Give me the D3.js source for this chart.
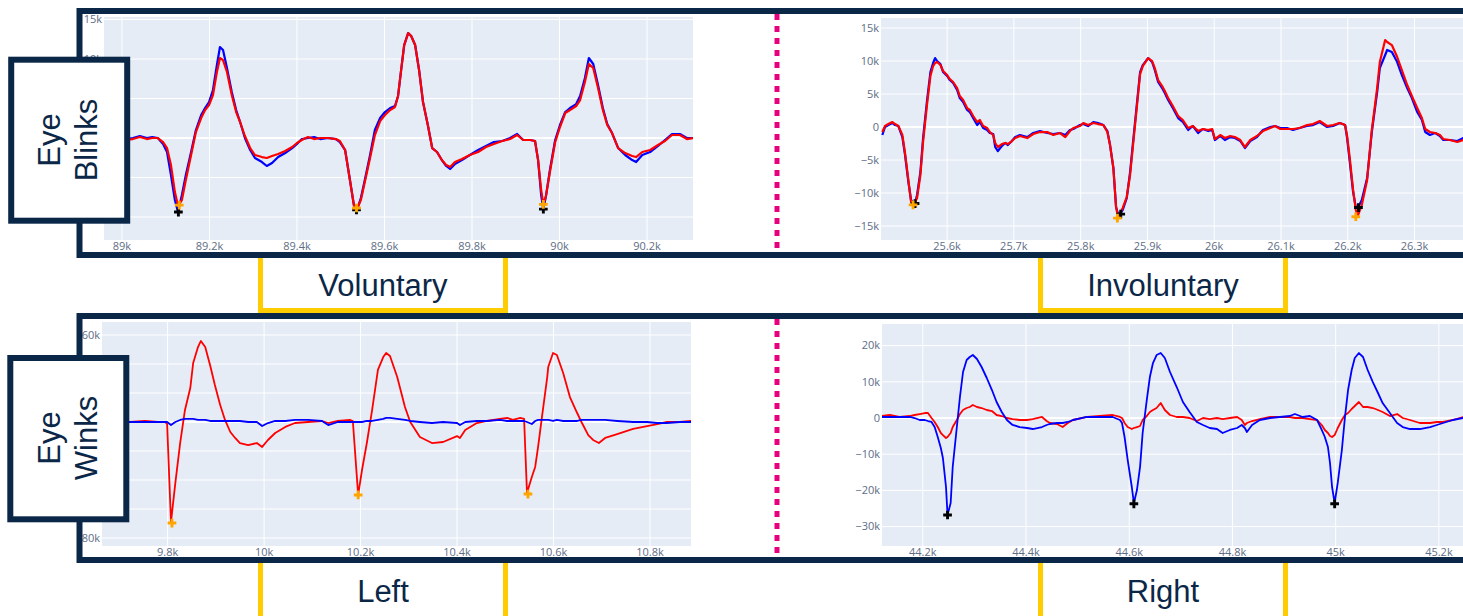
<!DOCTYPE html>
<html><head><meta charset="utf-8">
<script src="https://cdn.jsdelivr.net/npm/d3@7"></script>
<style>body{margin:0;background:#fff}svg{display:block}</style>
</head><body>
<svg id="c" width="1463" height="616"></svg>
<script>
// ---------- DATA (x raw, y in thousands) ----------
// Voluntary blinks
const volX = [88959,88984,89007,89025,89041,89057,89069,89082,89094,89103,
89112,89121,89128,89137,89146,89158,89169,89181,89190,89199,
89208,89217,89224,89231,89240,89251,89261,89270,89281,89293,
89304,89320,89331,89343,89357,89373,89389,89400,89411,89425,
89439,89453,89471,89489,89498,89510,89521,89530,89537,89546,
89555,89567,89578,89590,89601,89613,89624,89631,89638,89645,
89654,89661,89670,89679,89688,89699,89709,89720,89731,89741,
89750,89761,89777,89795,89814,89832,89850,89869,89887,89903,
89917,89933,89944,89951,89958,89963,89969,89978,89990,90001,
90013,90024,90038,90047,90058,90067,90077,90088,90099,90109,
90120,90134,90150,90166,90175,90189,90207,90225,90241,90257,
90275,90291,90305];
const volBlue = [-0.13,0.13,-0.13,0,0.25,0,0.13,0,-0.76,-1.77,
-4.68,-7.85,-9.37,-7.22,-4.68,-1.77,1.01,2.91,3.80,4.56,
6.08,9.24,11.52,11.14,8.86,5.82,3.54,2.03,0,-1.52,
-2.53,-3.04,-3.54,-3.17,-2.41,-1.90,-1.27,-0.76,-0.13,0,
0.13,-0.13,0,-0.13,-0.51,-1.52,-5.32,-8.48,-9.12,-7.60,
-5.32,-2.15,1.01,2.53,3.29,3.80,4.05,5.32,8.61,11.77,
13.29,12.91,11.77,8.61,4.56,1.65,-1.27,-1.77,-2.79,-3.54,
-3.92,-3.29,-2.79,-2.15,-1.52,-1.01,-0.51,-0.38,0,0.51,
-0.25,-0.25,-0.38,-2.79,-7.22,-9.0,-7.34,-4.05,-0.25,1.65,
3.29,3.80,4.30,5.32,7.60,10.13,9.37,6.71,3.80,1.77,
0.63,-1.27,-2.15,-2.79,-3.04,-2.15,-1.77,-1.01,-0.25,0.51,
0.51,0,0];
const volRed = [-0.25,0,-0.25,-0.13,0.13,-0.13,0,0,-0.51,-1.27,
-3.42,-6.84,-8.55,-7.85,-5.32,-2.15,0.76,2.53,3.54,4.18,
5.44,8.36,10.13,9.87,8.36,5.44,3.29,2.03,0.25,-1.27,
-2.15,-2.41,-2.53,-2.28,-2.03,-1.65,-1.14,-0.63,-0.25,0.13,
-0.13,0,0,-0.13,-0.38,-1.52,-5.32,-8.48,-8.99,-7.85,
-5.57,-2.53,0.38,2.15,2.91,3.54,3.92,5.32,8.61,11.77,
13.29,12.91,11.77,8.61,4.56,1.65,-1.27,-1.77,-2.79,-3.42,
-3.67,-3.04,-2.66,-2.15,-1.77,-1.14,-0.76,-0.38,-0.13,0.38,
-0.25,-0.25,-0.38,-2.79,-6.58,-8.4,-7.34,-4.30,-0.51,1.39,
3.16,3.54,4.05,4.81,7.09,9.37,8.86,6.33,3.54,1.65,
0.63,-1.27,-1.90,-2.28,-2.41,-1.77,-1.52,-0.89,-0.38,0.38,
0.38,-0.13,0];
const volBlueMin = [[89129,-9.37],[89536,-9.1],[89963,-9.0]];
const volRedMin = [[89131,-8.5],[89536,-8.86],[89963,-8.4]];
const volXTicks = [89000,89200,89400,89600,89800,90000,90200];
const volYTicks = [15,10,5,0,-5,-10];

// Involuntary blinks
const invX = [25503,25507,25512,25518,25522,25527,25533,25537,25542,25546,
25549,25552,25555,25560,25564,25570,25575,25579,25582,25585,
25590,25594,25600,25604,25609,25615,25619,25624,25630,25634,
25639,25645,25649,25654,25660,25664,25669,25672,25676,25682,
25687,25691,25697,25702,25709,25720,25729,25739,25750,25759,
25769,25777,25784,25789,25799,25804,25811,25819,25826,25834,
25840,25844,25849,25853,25856,25860,25863,25869,25874,25878,
25884,25889,25893,25901,25907,25911,25916,25922,25926,25931,
25938,25946,25953,25961,25968,25976,25983,25991,25997,26001,
26009,26016,26024,26031,26039,26046,26054,26064,26073,26084,
26091,26099,26109,26118,26128,26139,26148,26158,26169,26178,
26188,26196,26199,26203,26208,26212,26215,26221,26229,26236,
26244,26248,26256,26259,26266,26274,26281,26289,26296,26304,
26311,26316,26323,26331,26338,26343,26353,26364,26373,26413];
const invBlue = [-1.21,0,0.30,0.61,0.30,0.15,-1.52,-4.24,-8.33,-11.06,
-11.36,-11.51,-10.30,-6.82,-1.67,4.09,8.33,9.70,10.45,10.0,
9.54,8.33,7.73,7.12,6.67,5.61,4.39,3.79,2.58,2.27,
1.36,0.30,0.76,-0.15,-0.45,-0.91,-1.06,-3.03,-3.64,-2.88,
-2.42,-2.73,-2.12,-1.52,-1.21,-1.52,-0.91,-0.61,-0.91,-1.06,
-0.91,-1.21,-0.45,-0.30,0.30,0.45,0.15,0.76,0.61,0.30,
-0.61,-2.73,-6.21,-12.12,-13.18,-13.03,-12.57,-10.76,-6.82,-2.73,
3.33,8.33,9.39,10.45,9.85,8.64,6.82,5.91,5.15,4.09,
2.88,1.36,0.76,-0.45,0.15,-0.91,-0.30,-0.61,-0.45,-1.97,
-1.36,-1.97,-1.52,-1.67,-2.12,-3.18,-2.12,-1.52,-0.45,0,
0.15,-0.15,-0.15,-0.45,-0.15,0.15,0.30,0.76,0,0.15,
0.61,0.30,-1.67,-5.30,-9.85,-12.12,-12.27,-11.06,-7.73,-0.76,
5.30,8.94,10.91,11.67,11.36,9.85,7.88,5.91,4.39,2.27,
1.06,-0.76,-1.21,-0.91,-1.36,-1.97,-1.97,-2.12,-1.67,-1.82];
const invRed = [-0.76,0.15,0.45,0.76,0.45,0.15,-1.21,-3.94,-8.03,-11.36,
-11.82,-11.36,-10.76,-7.27,-2.27,3.48,7.73,9.24,9.70,9.85,
9.39,8.48,7.88,7.27,6.82,5.91,4.70,4.09,2.88,2.58,
1.67,0.76,1.06,0.15,-0.15,-0.76,-1.21,-2.42,-3.03,-2.58,
-2.42,-2.58,-2.12,-1.67,-1.36,-1.67,-1.06,-0.76,-0.76,-1.21,
-0.91,-1.52,-0.61,-0.15,0.15,0.61,0.30,0.61,0.45,0.30,
-0.76,-2.73,-6.21,-12.12,-13.64,-12.88,-12.27,-10.61,-7.27,-3.18,
2.88,8.03,9.24,10.45,10.0,8.94,7.12,6.21,5.45,4.39,
3.18,1.67,1.06,-0.15,0.15,-0.61,-0.30,-0.45,-0.30,-1.82,
-1.21,-1.67,-1.36,-1.52,-1.97,-3.03,-1.97,-1.36,-0.61,-0.15,
0.15,-0.30,-0.30,-0.30,-0.15,0.30,0.45,0.91,0.15,0.30,
0.61,0.30,-1.36,-4.70,-9.55,-12.57,-13.48,-11.82,-8.03,-0.45,
5.91,9.85,13.18,12.88,12.42,10.61,8.64,6.36,4.70,2.88,
1.36,-0.30,-0.76,-0.91,-1.21,-1.82,-1.97,-2.27,-1.97,-1.82];
const invBlueMin = [[25552,-11.6],[25860,-13.2],[26216,-12.2]];
const invRedMin = [[25549,-11.8],[25855,-13.8],[26212,-13.6]];
const invXTicks = [25600,25700,25800,25900,26000,26100,26200,26300];
const invYTicks = [15,10,5,0,-5,-10,-15];

// Left winks
const leftX = [9664,9691,9722,9753,9780,9795,9799,9807,9816,9826,
9836,9847,9853,9863,9869,9878,9888,9898,9909,9919,
9930,9940,9950,9967,9985,9996,10008,10023,10044,10064,
10091,10120,10133,10153,10178,10184,10195,10203,10213,10224,
10236,10247,10253,10261,10276,10292,10303,10323,10348,10371,
10400,10406,10417,10441,10462,10489,10504,10516,10531,10539,
10545,10555,10562,10568,10576,10587,10589,10599,10607,10620,
10634,10649,10659,10672,10682,10694,10707,10732,10765,10794,
10815,10835,10862,10885];
const leftRed = [0,0.7,0,0.7,0,0,-1.4,-69.0,-42.1,-14.5,
8.3,23.4,40.7,51.7,55.9,51.7,39.3,25.5,11.7,1.4,
-6.9,-11.0,-14.5,-15.9,-14.5,-17.2,-12.4,-7.6,-3.4,-0.7,
0,0.7,-0.7,0.7,1.4,0.7,-50.3,-33.1,-14.5,8.3,
35.9,44.8,47.6,45.5,31.0,10.3,0,-10.3,-14.5,-13.8,
-9.7,-11.0,-5.5,-0.7,0.7,2.1,2.8,1.4,2.8,2.1,
-49.0,-37.9,-31.0,-17.2,3.4,31.0,37.9,47.6,46.2,33.8,
17.2,6.2,-0.7,-9.0,-12.4,-14.5,-11.0,-8.3,-4.8,-2.8,
-1.4,0,0,0.7];
const leftBlue = [0,0,0,0,0,0,0,-2.1,0,1.4,
2.1,2.1,2.1,1.4,1.4,1.4,0.7,0.7,0.7,0.7,
0.7,0.7,0.7,0,0,-2.8,-0.7,0.7,0.7,1.4,
1.4,0.7,-2.1,0,0,0,0,0,0.7,0.7,
1.4,2.1,2.8,2.8,2.1,1.4,0.7,0,-0.7,0,
-0.7,-2.1,0,0.7,0.7,1.4,0.7,0.7,0.7,0.7,
0,-1.4,0.7,1.4,1.4,1.4,1.4,0.7,1.4,0.7,
0.7,0.7,1.4,1.4,1.4,1.4,1.4,0.7,0,0,
-0.7,-0.7,0,0];
const leftRedMin = [[9809,-69.7],[10195,-50.3],[10547,-49.7]];
const leftXTicks = [9800,10000,10200,10400,10600,10800];
const leftYTicks = [60,40,20,0,-20,-40,-60,-80];

// Right winks
const rightX = [44121,44136,44155,44175,44184,44194,44204,44210,44217,44223,
44229,44235,44239,44245,44248,44254,44258,44266,44272,44278,
44285,44291,44297,44305,44314,44324,44334,44343,44353,44363,
44374,44388,44402,44413,44431,44440,44446,44460,44471,44481,
44491,44518,44543,44568,44582,44586,44591,44597,44605,44609,
44615,44621,44626,44634,44640,44646,44653,44661,44669,44679,
44692,44704,44717,44731,44743,44756,44770,44781,44795,44809,
44818,44824,44828,44838,44853,44873,44892,44911,44921,44936,
44950,44964,44973,44979,44985,44989,44993,44998,45004,45012,
45018,45024,45031,45037,45045,45053,45062,45072,45082,45091,
45105,45119,45130,45144,45163,45183,45196,45208,45227,45247,
45299];
const rightBlue = [0.28,0.28,0.28,0.28,0,-0.55,-0.55,-0.83,-1.10,-2.49,
-5.25,-8.29,-11.05,-19.06,-26.79,-23.48,-13.53,-2.49,5.80,12.71,
16.02,16.85,17.40,16.30,14.09,11.05,7.73,4.42,1.66,-0.55,
-1.93,-2.49,-2.76,-3.04,-2.49,-1.93,-1.66,-1.38,-1.38,-1.10,
-0.55,0.28,0.28,0.28,-0.55,-1.38,-5.25,-11.60,-19.06,-23.48,
-19.89,-13.53,-4.14,4.97,11.32,15.19,17.40,17.95,16.57,12.71,
8.56,4.42,1.66,-1.10,-1.93,-2.76,-3.04,-4.14,-3.31,-2.76,
-1.93,-2.76,-3.87,-1.93,-0.55,0,0.28,0.55,1.10,0.28,
0.55,-0.55,-3.31,-5.25,-8.01,-12.43,-19.06,-23.48,-17.95,-8.84,
0.28,7.73,13.26,16.57,17.95,16.85,13.26,9.94,6.91,4.14,
1.38,-1.38,-2.49,-3.04,-3.04,-2.49,-1.93,-1.38,-0.55,0,
0.28];
const rightRed = [0.55,0.83,0.28,0.55,0.83,1.10,1.38,1.38,0,-1.10,
-2.49,-4.14,-4.70,-5.52,-5.25,-4.14,-2.49,-0.55,1.10,2.21,
2.76,3.04,3.59,3.04,2.76,2.21,1.93,0.83,0.55,0,
-0.28,-0.55,-0.55,-0.28,0.28,-0.83,-1.38,-1.66,-2.49,-1.38,
-0.55,0.28,0.55,0.83,0.28,0,-1.38,-2.49,-3.04,-2.76,
-2.49,-2.21,-0.55,0.55,1.66,2.21,2.76,4.14,2.21,0.83,
0.28,0.28,0,-0.83,0,-0.28,0,-0.28,0,0.28,
-0.55,-1.93,-1.38,-0.83,-0.28,0.28,0.28,0.28,0,0,
-0.28,-0.55,-1.93,-3.31,-4.14,-4.97,-5.25,-4.70,-2.76,-0.55,
0.83,1.38,2.49,3.31,4.42,3.04,3.04,2.76,2.21,1.66,
0.55,1.10,0,-0.55,-1.38,-1.38,-1.10,-1.10,-0.55,0.28,
0.28];
const rightBlueMin = [[44248,-26.8],[44609,-23.7],[44998,-23.7]];
const rightXTicks = [44200,44400,44600,44800,45000,45200];
const rightYTicks = [20,10,0,-10,-20,-30];

// ---------- DRAW ----------
const svg = d3.select("#c");
const NAVY = "#0b2748", GOLD = "#ffcc00", PINK = "#e6007e";
const BLUE = "#0000ff", RED = "#ff0000";
const fmtX = d3.format("~s");
const fmtK = v => v === 0 ? "0" : (v < 0 ? "\u2212" : "") + Math.abs(v) + "k";

const panels = [
  {id:"p1", x:volX, series:[{y:volBlue,c:BLUE},{y:volRed,c:RED}], lw:2.2,
   marks:[{p:volBlueMin,c:"#000"},{p:volRedMin,c:"#ffa500"}],
   xd:[88959,90305], yd:[-12.91,15.32], L:104, R:693, T:17, B:240, xt:volXTicks, yt:volYTicks},
  {id:"p2", x:invX, series:[{y:invBlue,c:BLUE},{y:invRed,c:RED}], lw:2.2,
   marks:[{p:invBlueMin,c:"#000"},{p:invRedMin,c:"#ffa500"}],
   xd:[25501,26413], yd:[-17.12,16.52], L:881, R:1490, T:18, B:240, xt:invXTicks, yt:invYTicks},
  {id:"p3", x:leftX, series:[{y:leftRed,c:RED},{y:leftBlue,c:BLUE}], lw:1.8,
   marks:[{p:leftRedMin,c:"#ffa500"}],
   xd:[9664,10885], yd:[-85.52,68.97], L:102, R:691, T:322, B:546, xt:leftXTicks, yt:leftYTicks},
  {id:"p4", x:rightX, series:[{y:rightRed,c:RED},{y:rightBlue,c:BLUE}], lw:1.8,
   marks:[{p:rightBlueMin,c:"#000"}],
   xd:[44121,45299], yd:[-35.36,25.97], L:882, R:1490, T:324, B:546, xt:rightXTicks, yt:rightYTicks}
];

const defs = svg.append("defs");
defs.append("clipPath").attr("id","lblclip").append("rect")
  .attr("x",82).attr("y",0).attr("width",1400).attr("height",616);

panels.forEach(P => {
  const xs = d3.scaleLinear().domain(P.xd).range([P.L, P.R]);
  const ys = d3.scaleLinear().domain(P.yd).range([P.B, P.T]);
  defs.append("clipPath").attr("id","clip"+P.id).append("rect")
    .attr("x",P.L).attr("y",P.T).attr("width",P.R-P.L).attr("height",P.B-P.T);
  const g = svg.append("g");
  g.append("rect").attr("x",P.L).attr("y",P.T).attr("width",P.R-P.L).attr("height",P.B-P.T)
    .attr("fill","#e5ecf6");
  const grid = g.append("g").attr("clip-path","url(#clip"+P.id+")");
  grid.selectAll(".vx").data(P.xt).join("line")
    .attr("x1",d=>xs(d)).attr("x2",d=>xs(d)).attr("y1",P.T).attr("y2",P.B)
    .attr("stroke","#fff").attr("stroke-width",1);
  grid.selectAll(".hy").data(P.yt).join("line")
    .attr("x1",P.L).attr("x2",P.R).attr("y1",d=>ys(d)).attr("y2",d=>ys(d))
    .attr("stroke","#fff").attr("stroke-width",d=>d===0?2:1);
  const lg = g.append("g").attr("clip-path","url(#clip"+P.id+")");
  P.series.forEach(s => {
    const line = d3.line().x((d,i)=>xs(P.x[i])).y(d=>ys(d));
    lg.append("path").datum(s.y).attr("d",line).attr("fill","none")
      .attr("stroke",s.c).attr("stroke-width",P.lw).attr("stroke-linejoin","round");
  });
  const sym = d3.symbol(d3.symbolCross, 42);
  P.marks.forEach(m => {
    lg.selectAll(null).data(m.p).join("path")
      .attr("d",sym).attr("transform",d=>`translate(${xs(d[0])},${ys(d[1])})`)
      .attr("fill",m.c);
  });
  const tl = g.append("g").attr("clip-path","url(#lblclip)")
    .attr("font-family","'Open Sans', 'DejaVu Sans', sans-serif").attr("font-size",11).attr("fill","#5e6d86");
  tl.selectAll(".xl").data(P.xt).join("text")
    .attr("x",d=>xs(d)).attr("y",P.B+10).attr("text-anchor","middle").text(d=>fmtX(d));
  tl.selectAll(".yl").data(P.yt).join("text")
    .attr("x",P.L-2).attr("y",d=>ys(d)).attr("dy","0.35em").attr("text-anchor","end").text(d=>fmtK(d));
});

// pink dotted separators
[[14,252],[319,557]].forEach(([a,b]) => {
  svg.append("line").attr("x1",777).attr("x2",777).attr("y1",a).attr("y2",b)
    .attr("stroke",PINK).attr("stroke-width",5).attr("stroke-dasharray","6,6");
});

// frames
[[11,255],[316,560]].forEach(([t,b]) => {
  svg.append("rect").attr("x",79.5).attr("y",t).attr("width",1500).attr("height",b-t)
    .attr("fill","none").attr("stroke",NAVY).attr("stroke-width",6);
});

// yellow category boxes
[260.5, 1040.5].forEach((x0,i) => {
  const x1 = i===0 ? 505.5 : 1285.5;
  svg.append("path").attr("d",`M${x0},258 V310.5 H${x1} V258`)
    .attr("fill","none").attr("stroke",GOLD).attr("stroke-width",5);
  svg.append("path").attr("d",`M${x0},563 V616 M${x1},563 V616`)
    .attr("fill","none").attr("stroke",GOLD).attr("stroke-width",5);
});

const FONT = "'Liberation Sans', Arial, sans-serif";
const cats = [{t:"Voluntary",x:383,y:296},{t:"Involuntary",x:1163,y:296},{t:"Left",x:383,y:602},{t:"Right",x:1163,y:602}];
svg.selectAll(".cat").data(cats).join("text")
  .attr("x",d=>d.x).attr("y",d=>d.y).attr("text-anchor","middle")
  .attr("font-family",FONT).attr("font-size",31).attr("fill",NAVY).text(d=>d.t);

// row label boxes
const rows = [{a:"Eye",b:"Blinks",x:11.2,y:59.7,w:116,h:161,cy:140},{a:"Eye",b:"Winks",x:10.3,y:358,w:116,h:161.3,cy:438}];
rows.forEach(r => {
  svg.append("rect").attr("x",r.x).attr("y",r.y).attr("width",r.w).attr("height",r.h)
    .attr("fill","#fff").attr("stroke",NAVY).attr("stroke-width",6);
  svg.append("text").attr("transform",`translate(60,${r.cy}) rotate(-90)`)
    .attr("text-anchor","middle").attr("font-family",FONT).attr("font-size",31).attr("fill",NAVY).text(r.a);
  svg.append("text").attr("transform",`translate(97,${r.cy}) rotate(-90)`)
    .attr("text-anchor","middle").attr("font-family",FONT).attr("font-size",31).attr("fill",NAVY).text(r.b);
});
</script>
</body></html>
